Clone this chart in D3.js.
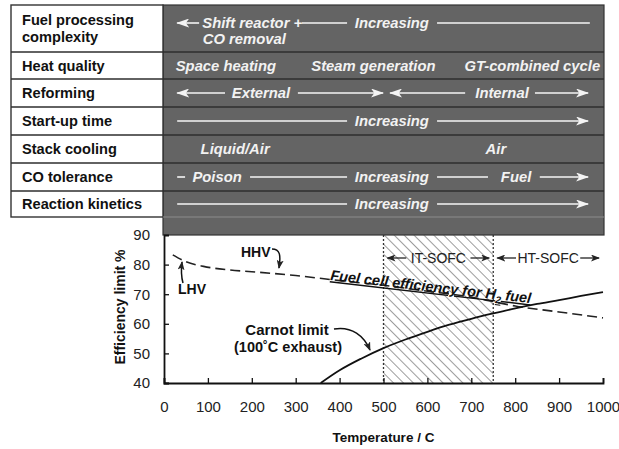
<!DOCTYPE html>
<html>
<head>
<meta charset="utf-8">
<script src="https://cdn.jsdelivr.net/npm/d3@7/dist/d3.min.js"></script>
<style>
  html, body { margin: 0; padding: 0; background: #fff; }
  svg { display: block; font-family: "Liberation Sans", Arial, sans-serif; }
</style>
</head>
<body>
<svg id="chart" width="619" height="449"></svg>
<script>
// ---- data ----
const rowLabels = [
  ["Fuel processing", "complexity"],
  ["Heat quality"],
  ["Reforming"],
  ["Start-up time"],
  ["Stack cooling"],
  ["CO tolerance"],
  ["Reaction kinetics"]
];
const xTicks = [0, 100, 200, 300, 400, 500, 600, 700, 800, 900, 1000];
const yTicks = [40, 50, 60, 70, 80, 90];

// ideal fuel-cell efficiency for H2 (dashed)
const fcTemp = [20, 50, 90, 150, 200, 300, 400, 500, 600, 700, 750, 800, 900, 1000];
const fcEff  = [83.3, 81.0, 79.4, 78.2, 77.6, 76.3, 74.6, 73.0, 71.0, 69.0, 67.5, 66.0, 64.0, 62.0];

// Carnot limit with 100 °C exhaust (solid)
const carnotTemp = [357, 400, 450, 500, 550, 600, 650, 700, 750, 800, 850, 900, 950, 1000];
const carnotEff  = [40.0, 44.3, 48.3, 51.8, 54.7, 57.3, 59.7, 61.7, 63.5, 65.2, 66.7, 68.0, 69.4, 70.7];

// operating windows
const itRange = [500, 750];
const htRange = [750, 1000];

// table contents, positioned along the temperature axis
const tableRows = [
  [ {line: [30, 80], head: "start"}, {text: "Shift reactor +", t: 201},
    {line: [314, 417]}, {text: "Increasing", t: 519}, {line: [622, 970]},
    {text: "CO removal", t: 183, line2: true} ],
  [ {text: "Space heating", t: 141}, {text: "Steam generation", t: 477}, {text: "GT-combined cycle", t: 839} ],
  [ {line: [30, 139], head: "start"}, {text: "External", t: 221}, {line: [305, 499], head: "end"},
    {line: [515, 686], head: "start"}, {text: "Internal", t: 770}, {line: [845, 966], head: "end"} ],
  [ {line: [30, 417]}, {text: "Increasing", t: 519}, {line: [622, 966], head: "end"} ],
  [ {text: "Liquid/Air", t: 162}, {text: "Air", t: 756} ],
  [ {line: [30, 48]}, {text: "Poison", t: 121}, {line: [196, 417]}, {text: "Increasing", t: 519},
    {line: [622, 738]}, {text: "Fuel", t: 802}, {line: [856, 966], head: "end"} ],
  [ {line: [30, 417]}, {text: "Increasing", t: 519}, {line: [622, 966], head: "end"} ]
];

// ---- layout ----
const svg = d3.select("#chart");
const x = d3.scaleLinear().domain([0, 1000]).range([164, 603]);
const y = d3.scaleLinear().domain([40, 90]).range([383, 235]);

const tableLeft = 11, labelRight = 163, tableRight = 604, tableTop = 5;
const rowEdges = [5, 52, 79, 107, 135, 163, 191, 217];
const bandBottom = y(90);
const darkFill = "#646464";

const defs = svg.append("defs");
function marker(id, color, w, h) {
  defs.append("marker")
    .attr("id", id).attr("markerUnits", "userSpaceOnUse")
    .attr("markerWidth", w).attr("markerHeight", h)
    .attr("refX", w - 1).attr("refY", h / 2)
    .attr("orient", "auto-start-reverse")
    .append("path")
    .attr("d", `M0,0L${w},${h / 2}L0,${h}L${w * 0.25},${h / 2}Z`)
    .attr("fill", color);
}
marker("headW", "#f4f4f4", 13, 9);
marker("headK", "#222", 9, 7);

const hatch = defs.append("pattern")
  .attr("id", "hatch").attr("patternUnits", "userSpaceOnUse")
  .attr("width", 7).attr("height", 7)
  .attr("patternTransform", "rotate(-45)");
hatch.append("line").attr("x1", 0).attr("y1", 0).attr("x2", 0).attr("y2", 7)
  .attr("stroke", "#4a4a4a").attr("stroke-width", 1.1);

// ---- table ----
svg.append("rect")
  .attr("x", labelRight).attr("y", tableTop)
  .attr("width", tableRight - labelRight).attr("height", bandBottom - tableTop)
  .attr("fill", darkFill).attr("stroke", "#333").attr("stroke-width", 1.2);

svg.append("rect")
  .attr("x", tableLeft).attr("y", tableTop)
  .attr("width", labelRight - tableLeft).attr("height", rowEdges[rowEdges.length - 1] - tableTop)
  .attr("fill", "#fff").attr("stroke", "#333").attr("stroke-width", 1.4);

svg.append("g").selectAll("line")
  .data(rowEdges.slice(1, -1))
  .join("line")
  .attr("x1", tableLeft).attr("x2", tableRight)
  .attr("y1", d => d).attr("y2", d => d)
  .attr("stroke", "#2e2e2e").attr("stroke-width", 1.6);

svg.append("line")
  .attr("x1", labelRight).attr("x2", tableRight)
  .attr("y1", rowEdges[rowEdges.length - 1]).attr("y2", rowEdges[rowEdges.length - 1])
  .attr("stroke", "#8c8c8c").attr("stroke-width", 1.2);

// row labels
rowLabels.forEach((lines, i) => {
  const top = rowEdges[i], bot = rowEdges[i + 1];
  const mid = (top + bot) / 2;
  const t = svg.append("text")
    .attr("font-size", 14.6).attr("font-weight", "bold").attr("fill", "#111");
  lines.forEach((s, k) => {
    t.append("tspan")
      .attr("x", 22)
      .attr("y", mid + 5 + (k - (lines.length - 1) / 2) * 17)
      .text(s);
  });
});

// row contents
tableRows.forEach((items, i) => {
  const top = rowEdges[i], bot = rowEdges[i + 1];
  const mid = i === 0 ? 23 : (top + bot) / 2;
  const g = svg.append("g");
  items.forEach(it => {
    if (it.line) {
      const ln = g.append("line")
        .attr("x1", x(it.line[0])).attr("x2", x(it.line[1]))
        .attr("y1", mid).attr("y2", mid)
        .attr("stroke", "#f4f4f4").attr("stroke-width", 1.6);
      if (it.head === "end") ln.attr("marker-end", "url(#headW)");
      if (it.head === "start") ln.attr("marker-start", "url(#headW)");
    } else {
      g.append("text")
        .attr("x", x(it.t))
        .attr("y", (it.line2 ? 38.5 : mid) + 5.2)
        .attr("text-anchor", "middle")
        .attr("font-size", 14.8).attr("font-weight", "bold").attr("font-style", "italic")
        .attr("fill", "#f2f2f2")
        .text(it.text);
    }
  });
});

// ---- plot ----
// hatched IT-SOFC window
svg.append("rect")
  .attr("x", x(itRange[0])).attr("y", y(90))
  .attr("width", x(itRange[1]) - x(itRange[0])).attr("height", y(40) - y(90))
  .attr("fill", "url(#hatch)");

svg.append("g").selectAll("line")
  .data(itRange)
  .join("line")
  .attr("x1", d => x(d)).attr("x2", d => x(d))
  .attr("y1", y(90)).attr("y2", y(40))
  .attr("stroke", "#333").attr("stroke-width", 1.3).attr("stroke-dasharray", "2,2");

// curves
const fcLine = d3.line().x((d, i) => x(fcTemp[i])).y(d => y(d)).curve(d3.curveMonotoneX);
svg.append("path")
  .attr("d", fcLine(fcEff))
  .attr("fill", "none").attr("stroke", "#222").attr("stroke-width", 1.6)
  .attr("stroke-dasharray", "10,5");

const cLine = d3.line().x((d, i) => x(carnotTemp[i])).y(d => y(d)).curve(d3.curveMonotoneX);
svg.append("path")
  .attr("d", cLine(carnotEff))
  .attr("fill", "none").attr("stroke", "#111").attr("stroke-width", 1.8);

// axes
const xAxis = d3.axisBottom(x).tickValues(xTicks).tickFormat(d3.format("d")).tickSize(-5).tickPadding(18);
const gx = svg.append("g").attr("transform", `translate(0,${y(40)})`).call(xAxis);
const yAxis = d3.axisLeft(y).tickValues(yTicks).tickFormat(d3.format("d")).tickSize(-5).tickPadding(14);
const gy = svg.append("g").attr("transform", `translate(${x(0)},0)`).call(yAxis);
[gx, gy].forEach(g => {
  g.select(".domain").attr("stroke", "#111").attr("stroke-width", 1.8);
  g.selectAll(".tick line").attr("stroke", "#111").attr("stroke-width", 1.3);
  g.selectAll(".tick text").attr("font-size", 15).attr("fill", "#222")
    .attr("font-family", "Liberation Sans, Arial, sans-serif");
});
gy.select(".tick:last-of-type line").remove();

// axis titles
svg.append("text")
  .attr("x", x(500)).attr("y", 442)
  .attr("text-anchor", "middle").attr("font-size", 13.5).attr("font-weight", "bold").attr("fill", "#111")
  .text("Temperature / C");
svg.append("text")
  .attr("transform", `translate(124.5,307) rotate(-90)`)
  .attr("text-anchor", "middle").attr("font-size", 14).attr("font-weight", "bold").attr("fill", "#111")
  .text("Efficiency limit %");

// SOFC window labels
function spanLabel(range, label) {
  const cy = 258;
  const c = (x(range[0]) + x(range[1])) / 2;
  const w = label.length * 8.6;
  svg.append("text")
    .attr("x", c).attr("y", cy + 5)
    .attr("text-anchor", "middle").attr("font-size", 14).attr("fill", "#222")
    .text(label);
  svg.append("line")
    .attr("x1", c - w / 2 - 2).attr("x2", x(range[0]) + 4)
    .attr("y1", cy).attr("y2", cy)
    .attr("stroke", "#222").attr("stroke-width", 1.3).attr("marker-end", "url(#headK)");
  svg.append("line")
    .attr("x1", c + w / 2 + 2).attr("x2", x(range[1]) - 4)
    .attr("y1", cy).attr("y2", cy)
    .attr("stroke", "#222").attr("stroke-width", 1.3).attr("marker-end", "url(#headK)");
}
spanLabel(itRange, "IT-SOFC");
spanLabel(htRange, "HT-SOFC");

// curve annotations
const ann = svg.append("g").attr("font-weight", "bold").attr("fill", "#111").attr("font-size", 14);
ann.append("text").attr("x", 241).attr("y", 257).text("HHV");
ann.append("text").attr("x", 178).attr("y", 294).text("LHV");
ann.append("text").attr("x", 287).attr("y", 335).attr("text-anchor", "middle").attr("font-size", 15).text("Carnot limit");
ann.append("text").attr("x", 288).attr("y", 352).attr("text-anchor", "middle").attr("font-size", 14.5).text("(100˚C exhaust)");

const arrows = [
  "M272,249 C280,249 281,255 279,268",
  "M183,283 C181,276 181,270 182,262",
  "M334,329 C352,326 364,336 370,350"
];
svg.append("g").selectAll("path")
  .data(arrows)
  .join("path")
  .attr("d", d => d)
  .attr("fill", "none").attr("stroke", "#111").attr("stroke-width", 1.5)
  .attr("marker-end", "url(#headK)");

// label riding along the ideal-efficiency curve
const fcLabel = svg.append("text")
  .attr("transform", "translate(330,280) rotate(6.6)")
  .attr("font-size", 14.5).attr("font-weight", "bold").attr("font-style", "italic")
  .attr("fill", "#111").attr("text-decoration", "underline");
fcLabel.append("tspan").text("Fuel cell efficiency for H");
fcLabel.append("tspan").attr("font-size", 10).attr("dy", 4).text("2");
fcLabel.append("tspan").attr("dy", -4).text(" fuel");
</script>
</body>
</html>
